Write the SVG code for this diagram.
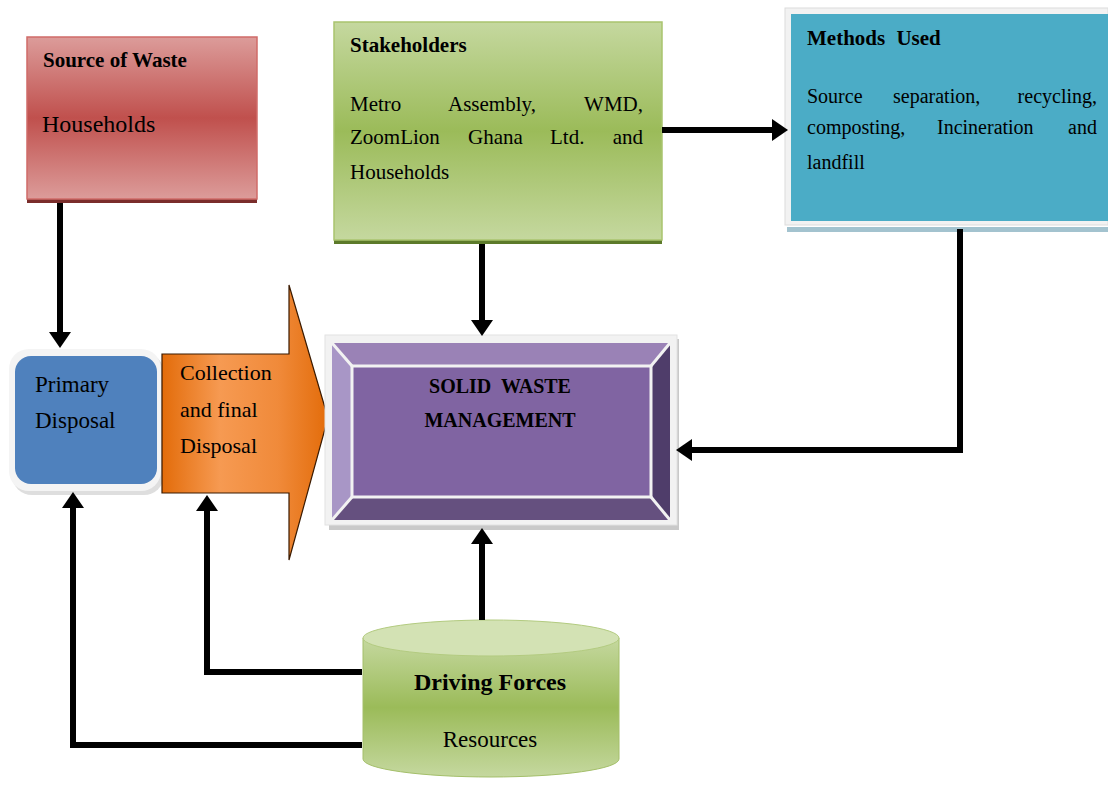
<svg xmlns="http://www.w3.org/2000/svg" width="1108" height="785" viewBox="0 0 1108 785">
<style>
text{font-family:"Liberation Serif","Times New Roman",serif;fill:#000}
.h{font-weight:bold;font-size:21px}
.b{font-size:20px}
.conn path{fill:none;stroke:#000;stroke-width:6;marker-end:url(#ah)}
</style>
<defs>
<marker id="ah" markerUnits="userSpaceOnUse" markerWidth="16" markerHeight="22" refX="4" refY="11" orient="auto">
<path d="M0,0 L16,11 L0,22 z" fill="#000"/>
</marker>
<linearGradient id="gRed" x1="0" y1="0" x2="0" y2="1">
<stop offset="0" stop-color="#dc9c9a"/><stop offset="0.5" stop-color="#c0504d"/><stop offset="1" stop-color="#dc9c9a"/>
</linearGradient>
<linearGradient id="gGreen" x1="0" y1="0" x2="0" y2="1">
<stop offset="0" stop-color="#c5d89f"/><stop offset="0.5" stop-color="#9bbb59"/><stop offset="1" stop-color="#c5d89f"/>
</linearGradient>
<linearGradient id="gOrange" x1="0" y1="0" x2="1" y2="0">
<stop offset="0" stop-color="#e36c0a"/><stop offset="0.35" stop-color="#f69a52"/><stop offset="0.7" stop-color="#f08a3a"/><stop offset="1" stop-color="#e36c0a"/>
</linearGradient>
<linearGradient id="gCyl" x1="0" y1="0" x2="0" y2="1">
<stop offset="0" stop-color="#c5d89f"/><stop offset="0.5" stop-color="#9bbb59"/><stop offset="1" stop-color="#c5d89f"/>
</linearGradient>
</defs>

<g id="source">
<rect x="27" y="37" width="230" height="166" fill="#7a2d2b"/>
<rect x="27" y="37" width="230" height="162" fill="url(#gRed)" stroke="#d06b68" stroke-width="1.5"/>
<text class="h" x="43" y="67">Source of Waste</text>
<text x="42" y="132" style="font-size:24px">Households</text>
</g>

<g id="stakeholders">
<rect x="334" y="22" width="328" height="222" fill="#5c7a2a"/>
<rect x="334" y="22" width="328" height="218" fill="url(#gGreen)" stroke="#a9c46e" stroke-width="1.5"/>
<text class="h" x="350" y="52">Stakeholders</text>
<g style="font-size:21px">
<text x="350" y="111">Metro</text><text x="448" y="111">Assembly,</text><text x="643" y="111" text-anchor="end">WMD,</text>
<text x="350" y="144">ZoomLion</text><text x="468" y="144">Ghana</text><text x="550" y="144">Ltd.</text><text x="643" y="144" text-anchor="end">and</text>
<text x="350" y="179">Households</text>
</g>
</g>

<g id="methods">
<rect x="787" y="227" width="321" height="5" fill="#a3c3cf"/>
<rect x="785" y="8" width="323" height="217" fill="#f2f2f2" stroke="#dcdcdc"/>
<rect x="791" y="14" width="317" height="207" fill="#4bacc6"/>
<text class="h" x="807" y="45" style="word-spacing:6px">Methods Used</text>
<g class="b">
<text x="807" y="103">Source</text><text x="893" y="103">separation,</text><text x="1097" y="103" text-anchor="end">recycling,</text>
<text x="807" y="134">composting,</text><text x="937" y="134">Incineration</text><text x="1097" y="134" text-anchor="end">and</text>
<text x="807" y="169">landfill</text>
</g>
</g>

<g id="primary">
<rect x="12" y="353" width="152" height="142" rx="20" fill="#c8c8c8" opacity="0.6"/>
<rect x="9" y="349" width="152" height="142" rx="20" fill="#f4f4f4"/>
<rect x="15" y="356" width="142" height="128" rx="16" fill="#4f81bd"/>
<g style="font-size:23px">
<text x="35" y="392">Primary</text>
<text x="35" y="428">Disposal</text>
</g>
</g>

<g id="collection">
<path d="M162,354 H289 V285 L328,418 L289,560 V493 H162 Z" fill="url(#gOrange)" stroke="#3a1a00" stroke-width="1.2"/>
<g style="font-size:22px">
<text x="180" y="380">Collection</text>
<text x="180" y="417">and final</text>
<text x="180" y="453">Disposal</text>
</g>
</g>

<g id="swm">
<rect x="329" y="339" width="350" height="191" fill="#c9c9c9"/>
<rect x="325" y="335" width="352" height="190" fill="#f2f2f2" stroke="#e2e2e2"/>
<polygon points="332,343 670,343 651,366 352,366" fill="#9a82b6"/>
<polygon points="332,343 352,366 352,497 332,520" fill="#a896c6"/>
<polygon points="670,343 670,520 651,497 651,366" fill="#4f3d6a"/>
<polygon points="332,520 352,497 651,497 670,520" fill="#65507f"/>
<rect x="352" y="366" width="299" height="131" fill="#8064a2"/>
<line x1="332" y1="343" x2="352" y2="366" stroke="#f2f2f2" stroke-width="3"/>
<line x1="670" y1="343" x2="651" y2="366" stroke="#f2f2f2" stroke-width="3"/>
<line x1="332" y1="520" x2="352" y2="497" stroke="#f2f2f2" stroke-width="3"/>
<line x1="670" y1="520" x2="651" y2="497" stroke="#f2f2f2" stroke-width="3"/>
<rect x="352" y="366" width="299" height="131" fill="none" stroke="#f2f2f2" stroke-width="3"/>
<g class="h" style="font-size:20px" text-anchor="middle">
<text x="500" y="393" style="word-spacing:5px">SOLID WASTE</text>
<text x="500" y="427">MANAGEMENT</text>
</g>
</g>

<g id="driving">
<path d="M363,638 V759 A128,18 0 0 0 619,759 V638 Z" fill="url(#gCyl)" stroke="#a4bf6a" stroke-width="1"/>
<ellipse cx="491" cy="638" rx="128" ry="18" fill="#d3e2b4" stroke="#b3cb80" stroke-width="1"/>
<text x="490" y="690" text-anchor="middle" style="font-weight:bold;font-size:24px">Driving Forces</text>
<text x="490" y="747" text-anchor="middle" style="font-size:23px">Resources</text>
</g>

<g class="conn">
<path d="M60,203 V336"/>
<path d="M482,244 V324"/>
<path d="M662,130 H776"/>
<path d="M960,229 V450 H688"/>
<path d="M482,620 V540"/>
<path d="M362,672 H207 V507"/>
<path d="M362,745 H73 V504"/>
</g>
</svg>
